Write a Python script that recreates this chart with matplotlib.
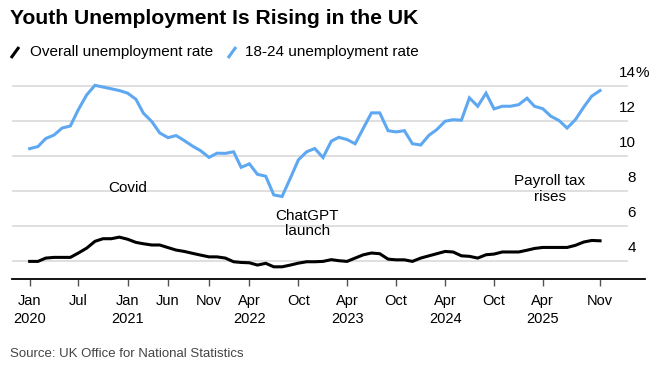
import matplotlib
matplotlib.use("Agg")
import matplotlib.pyplot as plt
import matplotlib.dates as mdates
import matplotlib.transforms as mtransforms
from matplotlib.lines import Line2D
import pandas as pd

plt.rcParams['font.family'] = ['Liberation Sans', 'DejaVu Sans']

# monthly, Jan 2020 - Nov 2025
months = pd.date_range('2020-01-01', '2025-11-01', freq='MS')

youth_rate = [10.42, 10.54, 11.0, 11.2, 11.6, 11.72, 12.66, 13.5, 14.05, 13.95,
              13.85, 13.75, 13.6, 13.25, 12.45, 11.98, 11.32, 11.05, 11.17, 10.88,
              10.56, 10.3, 9.92, 10.16, 10.15, 10.24, 9.35, 9.55, 8.95, 8.84,
              7.77, 7.68, 8.73, 9.78, 10.24, 10.43, 9.91, 10.85, 11.07, 10.94,
              10.7, 11.6, 12.47, 12.47, 11.45, 11.38, 11.45, 10.7, 10.63, 11.19,
              11.51, 11.99, 12.08, 12.05, 13.33, 12.85, 13.6, 12.7, 12.85, 12.85,
              12.94, 13.31, 12.85, 12.71, 12.28, 12.03, 11.6, 12.08, 12.8, 13.43,
              13.75]

overall_rate = [3.96, 3.96, 4.15, 4.19, 4.19, 4.19, 4.44, 4.72, 5.11, 5.26,
                5.26, 5.35, 5.23, 5.05, 4.97, 4.9, 4.9, 4.75, 4.61, 4.53,
                4.42, 4.32, 4.22, 4.22, 4.15, 3.94, 3.9, 3.88, 3.75, 3.85,
                3.65, 3.65, 3.75, 3.86, 3.94, 3.94, 3.96, 4.06, 4.0, 3.96,
                4.15, 4.34, 4.44, 4.4, 4.09, 4.05, 4.05, 3.96, 4.15, 4.28,
                4.4, 4.53, 4.5, 4.28, 4.25, 4.15, 4.34, 4.38, 4.5, 4.5,
                4.5, 4.6, 4.7, 4.76, 4.76, 4.76, 4.76, 4.88, 5.07, 5.16,
                5.14]

tick_dates = ['2020-01', '2020-07', '2021-01', '2021-06', '2021-11', '2022-04',
              '2022-10', '2023-04', '2023-10', '2024-04', '2024-10', '2025-04', '2025-11']
tick_labels = ['Jan\n2020', 'Jul', 'Jan\n2021', 'Jun', 'Nov', 'Apr\n2022',
               'Oct', 'Apr\n2023', 'Oct', 'Apr\n2024', 'Oct', 'Apr\n2025', 'Nov']
y_levels = [4, 6, 8, 10, 12, 14]

notes = [('Covid', '2021-01-01', 8.17),
         ('ChatGPT\nlaunch', '2022-11-03', 6.14),
         ('Payroll tax\nrises', '2025-04-28', 8.1)]

BLUE = '#5ea8f2'

fig = plt.figure(figsize=(6.7, 3.76), dpi=100)
ax = fig.add_axes([12 / 670, 1 - 278.5 / 376, 633 / 670, 218.5 / 376])

ax.set_xlim(pd.Timestamp('2019-10-27'), pd.Timestamp('2026-04-18'))
ax.set_ylim(2.98, 15.5)

grid_end = pd.Timestamp('2026-02-12')
ax.hlines(y_levels, ax.get_xlim()[0], mdates.date2num(grid_end),
          colors='#d9d9d9', linewidth=1.2, zorder=1)

ax.plot(months, youth_rate, color=BLUE, linewidth=2.2, zorder=3,
        solid_joinstyle='miter')
ax.plot(months, overall_rate, color='black', linewidth=2.2, zorder=4,
        solid_joinstyle='miter')

for s in ['top', 'left', 'right']:
    ax.spines[s].set_visible(False)
ax.spines['bottom'].set_linewidth(1.3)
ax.spines['bottom'].set_color('black')

ax.set_yticks([])
ax.set_xticks([pd.Timestamp(d) for d in tick_dates])
ax.set_xticklabels(tick_labels, fontsize=10.5, linespacing=1.4)
ax.tick_params(axis='x', length=5, width=1, color='#555555', pad=6)

# y labels sit above their gridlines, right side
trans = mtransforms.blended_transform_factory(ax.transAxes, ax.transData)
for v in y_levels:
    ax.text(624 / 633, v + 0.35, str(v), transform=trans,
            ha='right', va='bottom', fontsize=11)
    if v == 14:
        ax.text(624 / 633, v + 0.35, '%', transform=trans,
                ha='left', va='bottom', fontsize=11)

for txt, d, v in notes:
    ax.text(pd.Timestamp(d), v, txt, ha='center', va='center',
            fontsize=11, linespacing=1.15)

fig.text(10 / 670, 1 - 19 / 376, 'Youth Unemployment Is Rising in the UK',
         fontsize=15.2, fontweight='bold', va='center', ha='left')

# legend row with slash marks
for x0, col in [(11, 'black'), (228, BLUE)]:
    fig.add_artist(Line2D([x0 / 670, (x0 + 8) / 670],
                          [1 - 58 / 376, 1 - 47 / 376],
                          transform=fig.transFigure, color=col,
                          linewidth=2.2, solid_capstyle='butt'))
fig.text(30 / 670, 1 - 52 / 376, 'Overall unemployment rate', fontsize=11,
         va='center', ha='left')
fig.text(245 / 670, 1 - 52 / 376, '18-24 unemployment rate', fontsize=11,
         va='center', ha='left')

fig.text(10 / 670, 1 - 354 / 376, 'Source: UK Office for National Statistics',
         fontsize=9.5, color='#444444', va='center', ha='left')

fig.savefig('out.png', dpi=100)
